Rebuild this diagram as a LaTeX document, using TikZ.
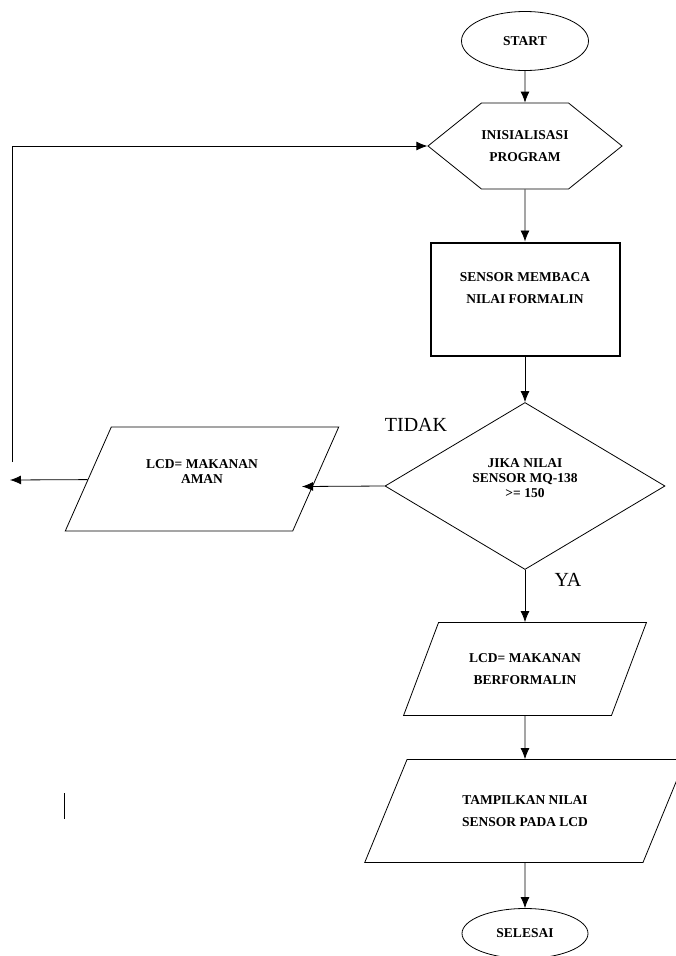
\documentclass[tikz,border=0pt]{standalone}
\usepackage{fontspec}
\setmainfont{Liberation Serif}
\usetikzlibrary{positioning, shapes.geometric, shapes.symbols, arrows.meta}

\begin{document}
\begin{tikzpicture}[x=1pt, y=-1pt, on grid, >={Latex[length=11pt,width=9pt]},
    every node/.style={font=\bfseries\fontsize{13.5}{22}\selectfont, align=center},
    terminal/.style={draw, ellipse, line width=0.8pt, minimum width=127pt, minimum height=59pt, inner sep=0pt},
    prep/.style={draw, signal, signal to=west and east, signal pointer angle=77.6, line width=0.8pt, minimum width=188pt, minimum height=86pt, inner sep=0pt},
    process/.style={draw, rectangle, line width=2pt, minimum width=189pt, minimum height=113pt},
    decision/.style={draw, diamond, line width=0.8pt, minimum width=280pt, minimum height=167pt, inner sep=0pt, font=\bfseries\fontsize{13.5}{15}\selectfont},
    io/.style={draw, trapezium, trapezium left angle=54, trapezium right angle=126, trapezium stretches=true, line width=0.8pt, inner sep=0pt},
    answer/.style={font=\fontsize{20}{24}\selectfont},
    line/.style={line width=0.8pt}]

    \useasboundingbox (0,0) rectangle (676,956);

    \node[terminal] (start) at (525,41) {START};
    \node[prep] (init) [below=105pt of start] {INISIALISASI\\PROGRAM};
    \node[process] (sensor) [below=153pt of init] {SENSOR MEMBACA\\NILAI FORMALIN\\~};
    \node[decision] (cek) [below=187pt of sensor] {JIKA NILAI\\SENSOR MQ-138\\>= 150\\~};
    \node[io, minimum width=274pt, minimum height=104pt, font=\bfseries\fontsize{13.5}{15}\selectfont] (aman) [above left=7pt and 323pt of cek] {LCD= MAKANAN\\AMAN\\~};
    \node[io, minimum width=243pt, minimum height=93pt] (berformalin) [below=183pt of cek] {LCD= MAKANAN\\BERFORMALIN};
    \node[io, minimum width=321pt, minimum height=103pt] (tampil) [below=142pt of berformalin] {TAMPILKAN NILAI\\SENSOR PADA LCD};
    \node[terminal, minimum width=126pt, minimum height=50pt] (selesai) [below=122.5pt of tampil] {SELESAI};

    \node[answer] (tidak) [above left=61pt and 109pt of cek] {TIDAK};
    \node[answer] (ya) [below right=93.5pt and 43pt of cek] {YA};

    \coordinate (fbbot) at (12,462);
    \coordinate (amanin) at (302,486.5);
    \coordinate (amanout) at (10,480);
    \coordinate (marktop) at (64,793);
    \coordinate (markbot) at (64,819);

    \path[->, line] (start) edge (init)
              (init) edge (sensor)
              (sensor) edge (cek)
              (cek) edge (berformalin)
              (berformalin) edge (tampil)
              (tampil) edge (selesai)
              (cek.west) edge (amanin)
              (aman) edge (amanout);
    \draw[->, line] (fbbot) |- (init);
    \draw[line] (marktop) -- (markbot);
\end{tikzpicture}
\end{document}
